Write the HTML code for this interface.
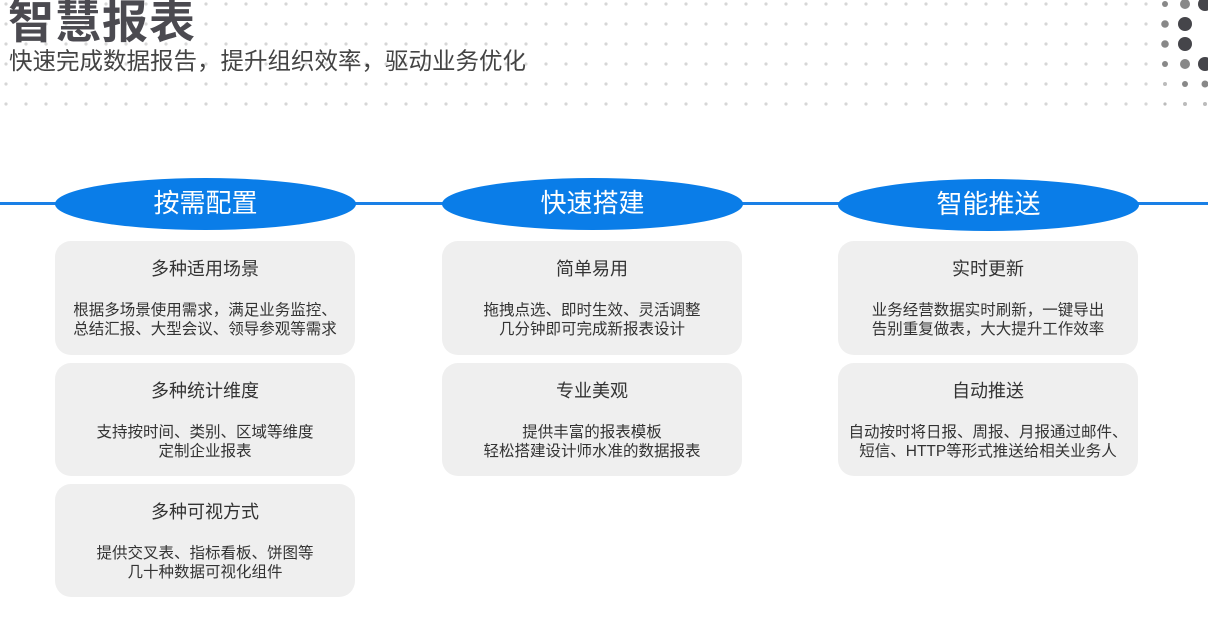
<!DOCTYPE html>
<html><head><meta charset="utf-8"><style>
*{margin:0;padding:0;box-sizing:border-box}
body{width:1208px;height:643px;background:#fff;position:relative;overflow:hidden;font-family:"Liberation Sans","Noto Sans CJK SC",sans-serif}
.t{position:absolute;left:8px;top:-14px;font-size:46px;font-weight:bold;color:#4b4a50;letter-spacing:1px}
.s{position:absolute;left:9px;top:42px;font-size:23.5px;color:#444}
.line{position:absolute;left:0;width:1208px;top:202px;height:3px;background:#1a80e6}
.pill{position:absolute;width:301px;height:52px;border-radius:50%;background:#0a7de8;color:#fff;font-size:26px;text-align:center;line-height:50px}
.card{position:absolute;width:300px;border-radius:16px;background:#efefef;text-align:center;color:#333}
.card h4{font-weight:normal;font-size:18px;margin-top:17px;height:22px;line-height:22px}
.card p{font-size:15.5px;line-height:19px;margin-top:21px}
</style></head><body>
<svg style="position:absolute;left:0;top:0" width="1208" height="120">
<defs><pattern id="d" x="-4" y="-6" width="20" height="20" patternUnits="userSpaceOnUse"><circle cx="10" cy="10" r="1.6" fill="#d6d6d6"/></pattern></defs>
<rect x="0" y="0" width="1160" height="112" fill="url(#d)"/>
<g fill="#888">
<circle cx="1165" cy="4" r="3"/><circle cx="1185" cy="4" r="5"/>
<circle cx="1165" cy="24" r="3.8"/><circle cx="1165" cy="44" r="3.8"/>
<circle cx="1165" cy="64" r="3"/><circle cx="1185" cy="64" r="5"/>
<circle cx="1185" cy="84" r="3"/><circle cx="1205" cy="84" r="3.5"/>
</g>
<g fill="#bbb"><circle cx="1165" cy="84" r="2"/><circle cx="1165" cy="104" r="1.6"/><circle cx="1185" cy="104" r="2"/><circle cx="1205" cy="104" r="2"/></g>
<g fill="#45454a"><circle cx="1205" cy="4" r="7"/><circle cx="1185" cy="24" r="7"/><circle cx="1185" cy="44" r="7"/><circle cx="1205" cy="64" r="7"/></g>
</svg>
<div class="t">智慧报表</div>
<div class="s">快速完成数据报告，提升组织效率，驱动业务优化</div>
<div class="line"></div>
<div class="pill" style="left:55px;top:178px">按需配置</div>
<div class="pill" style="left:442px;top:178px">快速搭建</div>
<div class="pill" style="left:838px;top:179px">智能推送</div>

<div class="card" style="left:55px;top:241px;height:114px"><h4>多种适用场景</h4><p>根据多场景使用需求，满足业务监控、<br>总结汇报、大型会议、领导参观等需求</p></div>
<div class="card" style="left:55px;top:363px;height:113px"><h4>多种统计维度</h4><p>支持按时间、类别、区域等维度<br>定制企业报表</p></div>
<div class="card" style="left:55px;top:484px;height:113px"><h4>多种可视方式</h4><p>提供交叉表、指标看板、饼图等<br>几十种数据可视化组件</p></div>

<div class="card" style="left:442px;top:241px;height:114px"><h4>简单易用</h4><p>拖拽点选、即时生效、灵活调整<br>几分钟即可完成新报表设计</p></div>
<div class="card" style="left:442px;top:363px;height:113px"><h4>专业美观</h4><p>提供丰富的报表模板<br>轻松搭建设计师水准的数据报表</p></div>

<div class="card" style="left:838px;top:241px;height:114px"><h4>实时更新</h4><p>业务经营数据实时刷新，一键导出<br>告别重复做表，大大提升工作效率</p></div>
<div class="card" style="left:838px;top:363px;height:113px"><h4>自动推送</h4><p>自动按时将日报、周报、月报通过邮件、<br>短信、HTTP等形式推送给相关业务人</p></div>
</body></html>
